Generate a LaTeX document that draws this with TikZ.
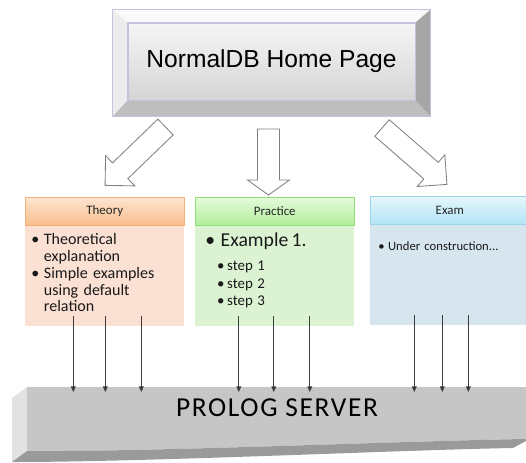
\documentclass[tikz,border=0pt]{standalone}
\usepackage{fontspec}
\setmainfont{Carlito}
\newfontfamily\arialfont{Liberation Sans}
\usetikzlibrary{positioning,arrows.meta,calc}

\definecolor{ButtonEdge}{RGB}{200,193,222}
\definecolor{FaceTop}{RGB}{245,245,245}
\definecolor{FaceBottom}{RGB}{213,213,213}
\definecolor{BevelTop}{RGB}{249,249,249}
\definecolor{BevelLeft}{RGB}{236,236,236}
\definecolor{BevelRight}{RGB}{166,166,166}
\definecolor{BevelBottom}{RGB}{190,190,190}
\definecolor{ArrowEdge}{RGB}{128,128,128}
\definecolor{TheoryTop}{RGB}{253,229,208}
\definecolor{TheoryBottom}{RGB}{248,190,140}
\definecolor{TheoryEdge}{RGB}{245,176,120}
\definecolor{TheoryBody}{RGB}{251,225,211}
\definecolor{PracticeTop}{RGB}{228,251,218}
\definecolor{PracticeBottom}{RGB}{178,238,156}
\definecolor{PracticeEdge}{RGB}{143,222,120}
\definecolor{PracticeBody}{RGB}{220,243,211}
\definecolor{ExamTop}{RGB}{230,247,252}
\definecolor{ExamBottom}{RGB}{178,229,246}
\definecolor{ExamEdge}{RGB}{154,214,236}
\definecolor{ExamBody}{RGB}{215,229,238}
\definecolor{ServerFront}{RGB}{198,198,198}
\definecolor{ServerSide}{RGB}{226,226,226}
\definecolor{ServerBottom}{RGB}{154,154,154}
\definecolor{FeedLine}{RGB}{60,60,60}

% bullet item: bullet box, then the text in a hanging parbox
\newcommand\itm[2][9pt]{\par\noindent\makebox[#1][l]{\textbullet}%
  \parbox[t]{\dimexpr\linewidth-#1\relax}{\raggedright #2}\par}

\begin{document}
\begin{tikzpicture}[x=0.025cm, y=-0.025cm, every node/.style={inner sep=0pt}]
  \tikzset{
    homeface/.style={draw=ButtonEdge, top color=FaceTop, bottom color=FaceBottom,
      minimum width=7.175cm, minimum height=1.925cm,
      font=\arialfont\fontsize{17.5}{20}\selectfont},
    tabhead/.style={anchor=north west, minimum width=3.975cm, minimum height=0.7cm,
      font=\fontsize{9.2}{11}\selectfont, text=black!85},
    tabbody/.style={minimum width=3.975cm, minimum height=2.5cm},
    tabtext/.style={anchor=north west, text=black!90},
    blockedge/.style={draw=ArrowEdge, fill=white, line width=0.6pt, line join=miter},
    feed/.style={-{Triangle[length=4pt,width=3.4pt]}, FeedLine, line width=0.6pt},
    pics/blockarrow/.style n args={2}{code={
      \draw[blockedge] (-11,0) -- (-11,#1-#2) -- (-21,#1-#2) -- (0,#1)
        -- (21,#1-#2) -- (11,#1-#2) -- (11,0) -- cycle;
    }}
  }
  \useasboundingbox (0,0) rectangle (526,462);

  % server slab
  \fill[ServerSide] (12,398) -- (27,387) -- (27,451) -- (12,462) -- cycle;
  \fill[ServerFront] (27,387) -- (526,387) -- (526,439)
    .. controls (400,441) and (150,452) .. (27,451) -- cycle;
  \fill[ServerBottom] (27,451) .. controls (150,452) and (400,441) .. (526,439)
    -- (526,441) -- (513,448) .. controls (400,450) and (150,462) .. (12,462) -- cycle;
  \node (server) at (277,408) {\fontsize{19.5}{22}\selectfont\addfontfeature{LetterSpace=6}PROLOG SERVER};
  \coordinate (serverdeck) at (27,392);

  % home page button
  \node[homeface] (home) at (271.5,61.5) {NormalDB Home Page};
  \coordinate (homeNW) at ($(home.north west)+(-15,-13)$);
  \coordinate (homeNE) at ($(home.north east)+(15,-13)$);
  \coordinate (homeSW) at ($(home.south west)+(-15,16)$);
  \coordinate (homeSE) at ($(home.south east)+(15,16)$);
  \fill[BevelTop] (home.north west) -- (homeNW) -- (homeNE) -- (home.north east) -- cycle;
  \fill[BevelLeft] (home.north west) -- (homeNW) -- (homeSW) -- (home.south west) -- cycle;
  \fill[BevelRight] (home.north east) -- (homeNE) -- (homeSE) -- (home.south east) -- cycle;
  \fill[BevelBottom] (home.south west) -- (homeSW) -- (homeSE) -- (home.south east) -- cycle;
  \draw[ButtonEdge] (homeNW) rectangle (homeSE);
  \draw[ButtonEdge] (home.north west) rectangle (home.south east);

  % block arrows
  \pic[rotate=-46] at (165.5,127) {blockarrow={84}{21}};
  \pic at (268.5,129) {blockarrow={66}{15}};
  \pic[rotate=49] at (382,128) {blockarrow={86}{21}};

  % section tabs
  \node[tabhead, draw=TheoryEdge, top color=TheoryTop, bottom color=TheoryBottom] (theoryhead) at (25,197) {Theory};
  \node[tabbody, fill=TheoryBody, below=0pt of theoryhead] (theorybody) {};
  \node[tabhead, draw=PracticeEdge, top color=PracticeTop, bottom color=PracticeBottom] (practicehead) at (195,197) {Practice};
  \node[tabbody, fill=PracticeBody, below=0pt of practicehead] (practicebody) {};
  \node[tabhead, draw=ExamEdge, top color=ExamTop, bottom color=ExamBottom] (examhead) at (370,196) {Exam};
  \node[tabbody, fill=ExamBody, below=0pt of examhead] (exambody) {};

  \node[tabtext, text width=3.8cm, font=\fontsize{11.4}{11.8}\selectfont] (theorytext) at (31,228)
    {\itm[9pt]{Theoretical\\ explanation}\vspace{1.4pt}\itm[9pt]{Simple examples\\ using default\\ relation}};
  \node[tabtext, text width=3.6cm] (practicetext) at (205,224)
    {{\fontsize{14}{16}\selectfont\itm[11pt]{Example\,1.}}
     \vspace{4.6pt}
     {\fontsize{10.6}{12.4}\selectfont\leftskip=8.5pt
      \itm[7pt]{step 1}\itm[7pt]{step 2}\itm[7pt]{step 3}}};
  \node[tabtext, text width=3.6cm, font=\fontsize{9}{11}\selectfont] (examtext) at (378,235)
    {\itm[7pt]{Under construction...}};

  % feeds into the server
  \foreach \dx in {-31.5,0.5,36.5}
    \draw[feed] ($(theorybody.south)+(\dx,-10)$) coordinate (t) -- (t |- serverdeck);
  \foreach \dx in {-36,-1,35}
    \draw[feed] ($(practicebody.south)+(\dx,-10)$) coordinate (t) -- (t |- serverdeck);
  \foreach \dx in {-35.5,-7.5,18.5}
    \draw[feed] ($(exambody.south)+(\dx,-10)$) coordinate (t) -- (t |- serverdeck);
\end{tikzpicture}
\end{document}
